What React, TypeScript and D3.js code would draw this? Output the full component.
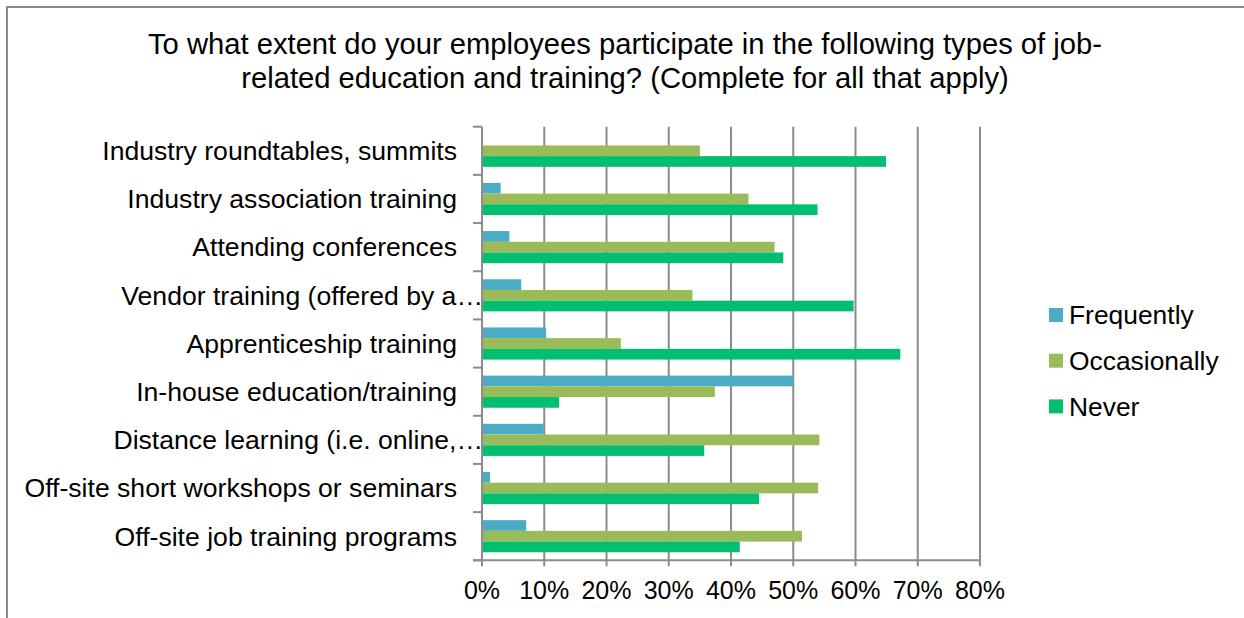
import React from "react";
import * as d3 from "d3";

const categories = [
  "Industry roundtables, summits",
  "Industry association training",
  "Attending conferences",
  "Vendor training (offered by a…",
  "Apprenticeship training",
  "In-house education/training",
  "Distance learning (i.e. online,…",
  "Off-site short workshops or seminars",
  "Off-site job training programs",
];

const seriesNames = ["Frequently", "Occasionally", "Never"];
const frequently = [0, 3.0, 4.4, 6.3, 10.3, 50.0, 9.9, 1.3, 7.1];
const occasionally = [35.0, 42.8, 47.0, 33.8, 22.3, 37.4, 54.2, 54.0, 51.4];
const never = [64.9, 53.9, 48.4, 59.7, 67.2, 12.4, 35.7, 44.5, 41.4];
const seriesColors = ["#4BACC6", "#9BBB59", "#00BF6F"];
const xTicks = [0, 10, 20, 30, 40, 50, 60, 70, 80];

const titleLines = [
  "To what extent do your employees participate in the following types of job-",
  "related education and training? (Complete for all that apply)",
];

const FONT = "'Liberation Sans', Arial, sans-serif";

export default function App() {
  const W = 1244;
  const H = 618;
  const plotLeft = 482;
  const plotRight = 980;
  const plotTop = 126.7;
  const plotBottom = 560.3;

  const x = d3.scaleLinear().domain([0, 80]).range([plotLeft, plotRight]);
  const y = d3.scaleBand<string>().domain(categories).range([plotTop, plotBottom]).padding(0);
  const bw = y.bandwidth();
  const inner = d3
    .scaleBand<string>()
    .domain(seriesNames)
    .range([bw / 6, bw - bw / 6])
    .padding(0);

  const values = [frequently, occasionally, never];
  const gridColor = "#8c8c8c";

  const boundaries = categories.map((c) => y(c) as number).concat([plotBottom]);

  return (
    <svg
      width={W}
      height={H}
      style={{ position: "absolute", left: 0, top: 0, background: "#fff" }}
      fontFamily={FONT}
    >
      <rect x={0} y={0} width={W} height={H} fill="#fff" />
      <rect x={7} y={7} width={1260} height={640} fill="none" stroke="#8a8a8a" strokeWidth={2} />

      {titleLines.map((t, i) => (
        <text key={i} x={625} y={53.5 + i * 34.7} textAnchor="middle" fontSize={29.2} fill="#000">
          {t}
        </text>
      ))}

      {/* vertical gridlines */}
      {xTicks.map((t) => (
        <line
          key={"g" + t}
          x1={x(t)}
          x2={x(t)}
          y1={plotTop}
          y2={plotBottom + 6}
          stroke={gridColor}
          strokeWidth={2}
        />
      ))}

      {/* category ticks */}
      {boundaries.map((b, i) => (
        <line key={"ct" + i} x1={plotLeft - 9} x2={plotLeft} y1={b} y2={b} stroke={gridColor} strokeWidth={2} />
      ))}
      {/* bottom axis line */}
      <line x1={plotLeft - 9} x2={plotRight} y1={plotBottom} y2={plotBottom} stroke={gridColor} strokeWidth={2} />

      {/* bars */}
      {categories.map((c, ci) =>
        seriesNames.map((s, si) => {
          const v = values[si][ci];
          if (v <= 0) return null;
          return (
            <rect
              key={c + s}
              x={x(0) + 1}
              y={(y(c) as number) + (inner(s) as number)}
              width={x(v) - x(0) - 1}
              height={inner.bandwidth()}
              fill={seriesColors[si]}
            />
          );
        })
      )}

      {/* category labels */}
      {categories.map((c) => {
        const trunc = c.endsWith("…");
        return (
          <text
            key={"l" + c}
            x={trunc ? 483 : 457}
            y={(y(c) as number) + bw / 2}
            dy="0.35em"
            textAnchor="end"
            fontSize={26.6}
            fill="#000"
          >
            {c}
          </text>
        );
      })}

      {/* x tick labels */}
      {xTicks.map((t) => (
        <text key={"xl" + t} x={x(t)} y={599} textAnchor="middle" fontSize={25} fill="#000">
          {t + "%"}
        </text>
      ))}

      {/* legend */}
      {seriesNames.map((s, i) => (
        <g key={"lg" + s} transform={`translate(1049, ${315 + i * 45.7})`}>
          <rect x={0} y={-7} width={14} height={14} fill={seriesColors[i]} />
          <text x={20} y={0} dy="0.35em" fontSize={26.4} fill="#000">
            {s}
          </text>
        </g>
      ))}
    </svg>
  );
}
